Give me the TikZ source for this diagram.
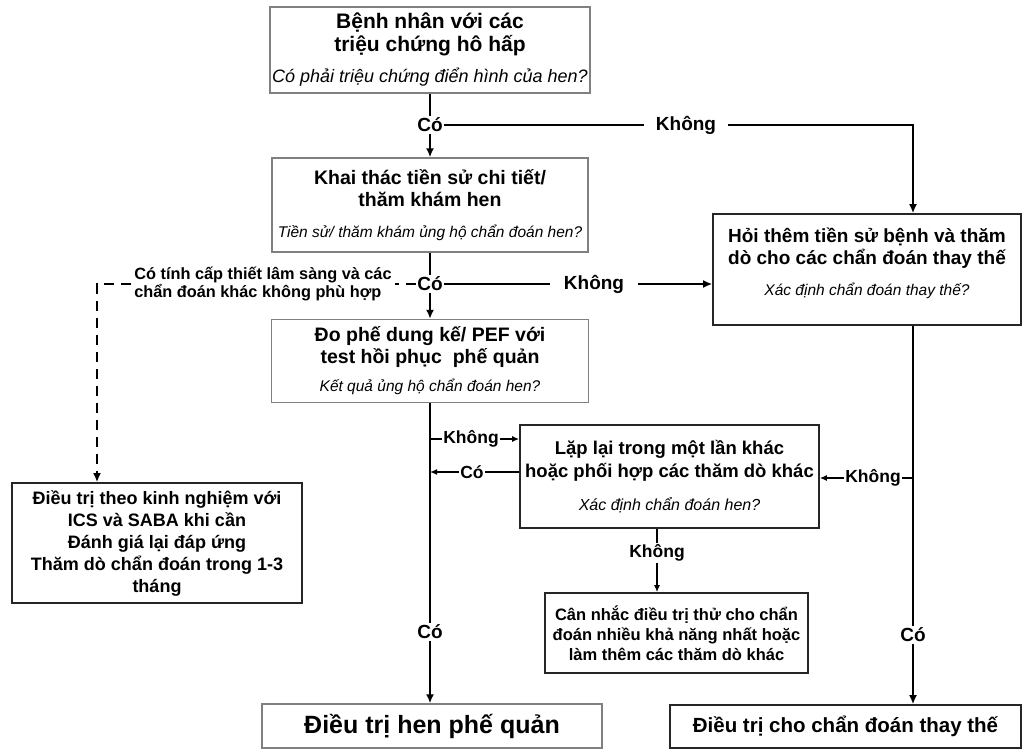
\documentclass[tikz,border=0pt]{standalone}
\usepackage{fontspec}
\setmainfont{Liberation Sans}
\usetikzlibrary{arrows.meta}
\newcommand{\qtext}[2][15.5]{{\normalfont\itshape\fontsize{#1}{#1}\selectfont #2}}

\begin{document}
\begin{tikzpicture}[x=1pt, y=-1pt,
    flow/.style={-{Latex[length=9pt,width=8pt]}, line width=2.4pt},
    link/.style={line width=2.4pt},
    minor/.style={line width=1.5pt},
    minorflow/.style={-{Latex[length=7pt,width=6pt]}, line width=1.5pt},
    urgent/.style={line width=2.3pt, dash pattern=on 10pt off 7pt},
    graybox/.style={draw=black!50, line width=1.4pt, align=center, inner xsep=2pt},
    darkbox/.style={draw=black!85, line width=1.6pt, align=center, inner xsep=2pt},
    ans/.style={font=\bfseries\fontsize{19}{21}\selectfont, inner sep=1.5pt},
    anssmall/.style={font=\bfseries\fontsize{17.5}{20}\selectfont, inner sep=1.5pt}
  ]
  \useasboundingbox (0,0) rectangle (1023,750);

  % boxes
  \node[graybox, minimum width=318pt, minimum height=86pt, font=\bfseries\fontsize{21}{23}\selectfont]
    (sympt) at (430,50) {Bệnh nhân với các\\triệu chứng hô hấp\\[8pt]\qtext[18]{Có phải triệu chứng điển hình của hen?}};
  \node[graybox, minimum width=316pt, minimum height=94pt, font=\bfseries\fontsize{19.5}{22}\selectfont]
    (hist) at (430,205) {Khai thác tiền sử chi tiết/\\thăm khám hen\\[9pt]\qtext{Tiền sử/ thăm khám ủng hộ chẩn đoán hen?}};
  \node[graybox, minimum width=317pt, minimum height=83pt, font=\bfseries\fontsize{19.5}{22}\selectfont]
    (spiro) at (430,361) {Đo phế dung kế/ PEF với\\test hồi phục\ \ phế quản\\[6pt]\qtext{Kết quả ủng hộ chẩn đoán hen?}};
  \node[darkbox, minimum width=308pt, minimum height=111pt, font=\bfseries\fontsize{19}{22}\selectfont]
    (alt) at (867,269.5) {Hỏi thêm tiền sử bệnh và thăm\\dò cho các chẩn đoán thay thế\\[9pt]\qtext{Xác định chẩn đoán thay thế?}\\[-6pt]\mbox{}};
  \node[darkbox, minimum width=290pt, minimum height=120pt, font=\bfseries\fontsize{18}{22}\selectfont]
    (empir) at (157,543) {Điều trị theo kinh nghiệm với\\ICS và SABA khi cần\\Đánh giá lại đáp ứng\\Thăm dò chẩn đoán trong 1-3\\tháng};
  \node[darkbox, minimum width=299pt, minimum height=103pt, font=\bfseries\fontsize{18.5}{23}\selectfont]
    (repeat) at (669.5,476.5) {Lặp lại trong một lần khác\\hoặc phối hợp các thăm dò khác\\[10pt]\qtext[16]{Xác định chẩn đoán hen?}};
  \node[darkbox, minimum width=263pt, minimum height=80pt, font=\bfseries\fontsize{16.5}{20}\selectfont]
    (trial) at (676.5,633) {Cân nhắc điều trị thử cho chẩn\\đoán nhiều khả năng nhất hoặc\\làm thêm các thăm dò khác};
  \node[graybox, minimum width=340pt, minimum height=44pt, font=\bfseries\fontsize{25}{28}\selectfont]
    (treat) at (432,726) {Điều trị hen phế quản};
  \node[darkbox, minimum width=351pt, minimum height=43pt, font=\bfseries\fontsize{20.5}{23}\selectfont]
    (altreat) at (845.5,726.5) {Điều trị cho chẩn đoán thay thế};

  % first question
  \node[ans] (yes1) at (430,125) {Có};
  \node[ans, inner xsep=12pt] (no1) at (686,125) {Không};
  \coordinate (turn1) at (913,125);
  \draw[link] (sympt) -- (yes1);
  \draw[flow] (yes1) -- (hist);
  \draw[link] (yes1) -- (no1);
  \draw[flow] (no1) -- (turn1) -- (turn1 |- alt.north);

  % second question
  \node[ans] (yes2) at (430,284) {Có};
  \node[ans, inner xsep=14pt] (no2) at (594,284) {Không};
  \draw[link] (hist) -- (yes2);
  \draw[flow] (yes2) -- (spiro);
  \draw[link] (yes2) -- (no2);
  \draw[flow] (no2) -- (no2 -| alt.west);

  % urgent branch
  \node[align=left, inner sep=3pt, font=\bfseries\fontsize{16.3}{18.5}\selectfont]
    (urg) at (263,284) {Có tính cấp thiết lâm sàng và các\\chẩn đoán khác không phù hợp};
  \coordinate (turn2) at (97,284);
  \draw[urgent] (yes2) -- (urg);
  \draw[urgent, -{Latex[length=9pt,width=8pt]}] (urg) -- (turn2) -- (turn2 |- empir.north);

  % spirometry result
  \node[ans] (yes3) at (430,632) {Có};
  \draw[link] (spiro) -- (yes3);
  \draw[flow] (yes3) -- (yes3 |- treat.north);
  \coordinate (tap1) at (430,439);
  \coordinate (tap2) at (430,472);
  \node[anssmall] (no3) at (471,439) {Không};
  \node[anssmall] (yes4) at (472,472) {Có};
  \draw[minor] (tap1) -- (no3);
  \draw[minorflow] (no3) -- (no3 -| repeat.west);
  \draw[minor] (yes4 -| repeat.west) -- (yes4);
  \draw[minorflow] (yes4) -- (tap2);

  % alternative diagnosis
  \node[ans] (yes5) at (913,635) {Có};
  \draw[link] (alt.south -| yes5) -- (yes5);
  \draw[flow] (yes5) -- (yes5 |- altreat.north);
  \coordinate (tap3) at (913,478);
  \node[anssmall] (no4) at (873,478) {Không};
  \draw[minor] (tap3) -- (no4);
  \draw[minorflow] (no4) -- (no4 -| repeat.east);

  % repeat test
  \node[anssmall] (no5) at (657,553) {Không};
  \draw[minor] (repeat.south -| no5) -- (no5);
  \draw[minorflow] (no5) -- (no5 |- trial.north);
\end{tikzpicture}
\end{document}
